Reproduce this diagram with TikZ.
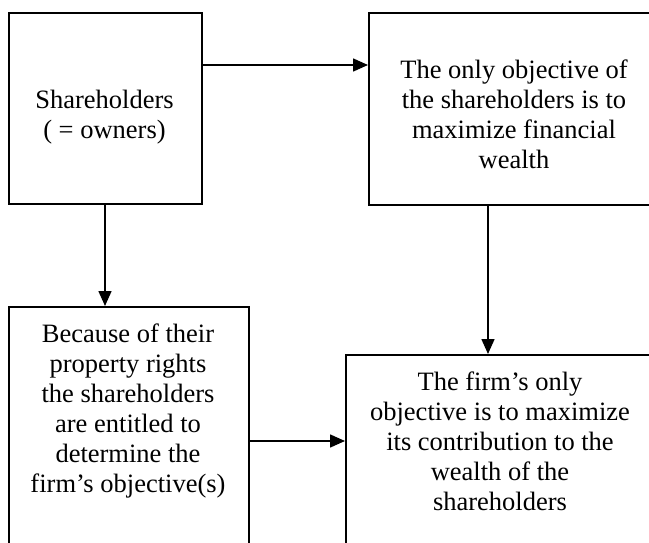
\documentclass[tikz,border=0pt]{standalone}
\usepackage{fontspec}
\setmainfont{Liberation Serif}
\usetikzlibrary{arrows.meta}

\tikzset{
  box/.style={draw, line width=1.6pt, anchor=north west, inner sep=0pt},
  boxtext/.style={align=center, inner sep=0pt, font=\fontsize{26.5pt}{30pt}\selectfont},
}

\begin{document}
\begin{tikzpicture}[x=1pt, y=-1pt, >={Triangle[length=15pt,width=13pt]}]

  % Page frame (boxes on the right and bottom run off the page)
  \clip (0,0) rectangle (649,543);

  % Boxes
  \node[box, minimum width=193pt, minimum height=191pt] (owners) at (8,12) {};
  \node[box, minimum width=300pt, minimum height=192pt] (wealth) at (368,12) {};
  \node[box, minimum width=240pt, minimum height=300pt] (rights) at (8,306) {};
  \node[box, minimum width=320pt, minimum height=250pt] (firm) at (345,354) {};

  % Texts
  \node[boxtext] (ownersText) at (104.5,117) {Shareholders\\( = owners)};
  \node[boxtext] (wealthText) at (514,114) {The only objective of\\the shareholders is to\\maximize financial\\wealth};
  \node[boxtext] (rightsText) at (128,411) {Because of their\\property rights\\the shareholders\\are entitled to\\determine the\\firm’s objective(s)};
  \node[boxtext] (firmText) at (500,441.5) {The firm’s only\\objective is to maximize\\its contribution to the\\wealth of the\\shareholders};

  % Arrows
  \draw[->, line width=1.6pt] (owners.east |- 0,65) -- (wealth.west |- 0,65);
  \draw[->, line width=1.6pt] (owners.south -| 105,0) -- (rights.north -| 105,0);
  \draw[->, line width=1.6pt] (wealth.south -| 488,0) -- (firm.north -| 488,0);
  \draw[->, line width=1.6pt] (rights.east |- 0,441) -- (firm.west |- 0,441);

\end{tikzpicture}
\end{document}
